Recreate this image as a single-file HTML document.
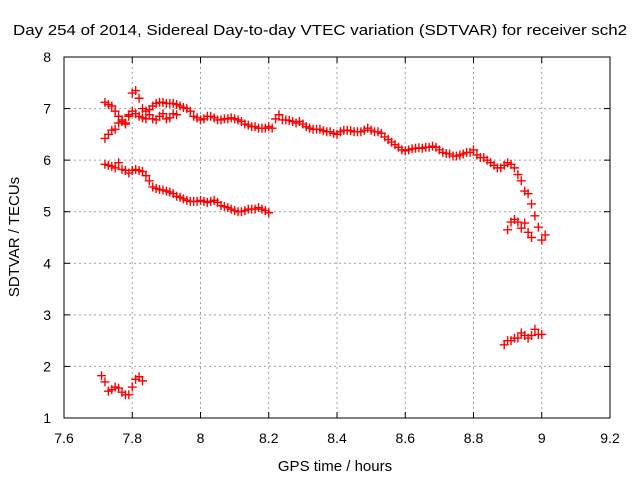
<!DOCTYPE html>
<html><head><meta charset="utf-8"><style>
body{margin:0;background:#fff;}
svg{display:block;font-family:"Liberation Sans",sans-serif;}
</style></head><body>
<svg id="chart" width="640" height="480" viewBox="0 0 640 480">
<text x="13" y="35" font-size="15" textLength="614" lengthAdjust="spacingAndGlyphs" fill="#000">Day 254 of 2014, Sidereal Day-to-day VTEC variation (SDTVAR) for receiver sch2</text>
<text x="335" y="471" font-size="15" text-anchor="middle">GPS time / hours</text>
<text transform="translate(19,237) rotate(-90)" font-size="15" text-anchor="middle">SDTVAR / TECUs</text>
<g id="grid"></g><g id="marks"></g>
<rect x="64" y="57" width="546" height="361" fill="none" stroke="#000" stroke-width="1"/>
</svg>
<script>
const xTicks=[7.6,7.8,8.0,8.2,8.4,8.6,8.8,9.0,9.2];
const xTickLabels=["7.6","7.8","8","8.2","8.4","8.6","8.8","9","9.2"];
const yTicks=[1,2,3,4,5,6,7,8];
const upperStart=7.72;
const upperA=[7.12,7.08,7.05,6.95,6.85,6.78,6.7,6.85,7.3,7.35,7.2,7.0,6.95,6.98,7.05,7.1,7.12,7.12,7.1,7.1,7.1,7.08,7.05,7.02,7.0,6.95,6.85,6.82,6.78,6.8,6.85,6.85,6.82,6.78,6.78,6.8,6.8,6.82,6.8,6.78,6.75,6.7,6.68,6.65,6.65,6.62,6.62,6.62];
const upperBStart=8.20;
const upperB=[6.65,6.62,6.8,6.88,6.78,6.78,6.77,6.75,6.72,6.75,6.7,6.65,6.62,6.6,6.6,6.6,6.57,6.55,6.55,6.52,6.5,6.55,6.58,6.58,6.57,6.55,6.55,6.55,6.58,6.62,6.58,6.55,6.55,6.52,6.45,6.4,6.35,6.3,6.25,6.2,6.18,6.2,6.22,6.23,6.24,6.23,6.25,6.25,6.27,6.25,6.2,6.15,6.13,6.12,6.08,6.08,6.1,6.12,6.15,6.15,6.2,6.1,6.05,6.05,6.0,5.95,5.9,5.85,5.85,5.9,5.95,5.92,5.85,5.72,5.6,5.4,5.35,5.15,4.92,4.7,4.45,4.55];
const risingStart=7.72;
const rising=[6.42,6.5,6.58,6.6,6.72,6.75,6.72,6.88,6.95,6.9,6.85,6.82,6.8,6.88,6.8,6.78,6.85,6.9,6.8,6.82,6.9,6.88];
const lowerStart=7.72;
const lower=[5.92,5.9,5.88,5.85,5.95,5.82,5.8,5.75,5.8,5.82,5.8,5.78,5.7,5.6,5.48,5.45,5.43,5.42,5.4,5.38,5.35,5.3,5.28,5.25,5.22,5.2,5.2,5.2,5.22,5.2,5.18,5.2,5.22,5.18,5.12,5.1,5.08,5.05,5.02,5.0,5.0,5.02,5.05,5.05,5.05,5.08,5.05,5.02,4.98];
const bottomLeftStart=7.71;
const bottomLeft=[1.82,1.7,1.52,1.55,1.6,1.58,1.5,1.45,1.45,1.6,1.75,1.8,1.72];
const bottomRightStart=8.89;
const bottomRight=[2.42,2.5,2.5,2.55,2.55,2.65,2.6,2.55,2.6,2.72,2.62,2.62];
const midRightStart=8.90;
const midRight=[4.65,4.8,4.85,4.8,4.68,4.78,4.6,4.5];
const step=0.01;

const X=v=>64+(v-7.6)/1.6*546;
const Y=v=>418-(v-1)/7*361;
const NS="http://www.w3.org/2000/svg";
const grid=document.getElementById('grid'),marks=document.getElementById('marks');
function mk(t,a,p){const e=document.createElementNS(NS,t);for(const k in a)e.setAttribute(k,a[k]);p.appendChild(e);return e;}
xTicks.forEach((t,i)=>{
 const x=X(t);
 if(i>0&&i<xTicks.length-1){const g=mk('line',{x1:x,x2:x,y1:57,y2:418,stroke:'#a0a0a0','stroke-dasharray':'2,3'},grid);
 
 }
 mk('line',{x1:x,x2:x,y1:418,y2:412,stroke:'#000'},grid);
 mk('line',{x1:x,x2:x,y1:57,y2:63,stroke:'#000'},grid);
 const l=mk('text',{x:x,y:443,'font-size':14,'text-anchor':'middle'},grid);l.textContent=xTickLabels[i];
 
 
});
yTicks.forEach((t,i)=>{
 const y=Y(t);
 if(i>0&&i<yTicks.length-1){const g=mk('line',{x1:64,x2:610,y1:y,y2:y,stroke:'#a0a0a0','stroke-dasharray':'2,3'},grid);
 
 }
 mk('line',{x1:64,x2:70,y1:y,y2:y,stroke:'#000'},grid);
 mk('line',{x1:604,x2:610,y1:y,y2:y,stroke:'#000'},grid);
 const l=mk('text',{x:51,y:y+5,'font-size':14,'text-anchor':'end'},grid);l.textContent=t;
 
 
});
function series(start,vals){
 vals.forEach((v,i)=>{
  const x=X(start+i*step),y=Y(v);
  const p=mk('path',{d:`M${x-4.5},${y}H${x+4.5}M${x},${y-4.5}V${y+4.5}`,stroke:'#ff0000','stroke-width':1.4,fill:'none'},marks);
  
  
 });
}
series(upperStart,upperA);series(upperBStart,upperB);series(risingStart,rising);
series(lowerStart,lower);series(bottomLeftStart,bottomLeft);series(bottomRightStart,bottomRight);series(midRightStart,midRight);
</script>
</body></html>
